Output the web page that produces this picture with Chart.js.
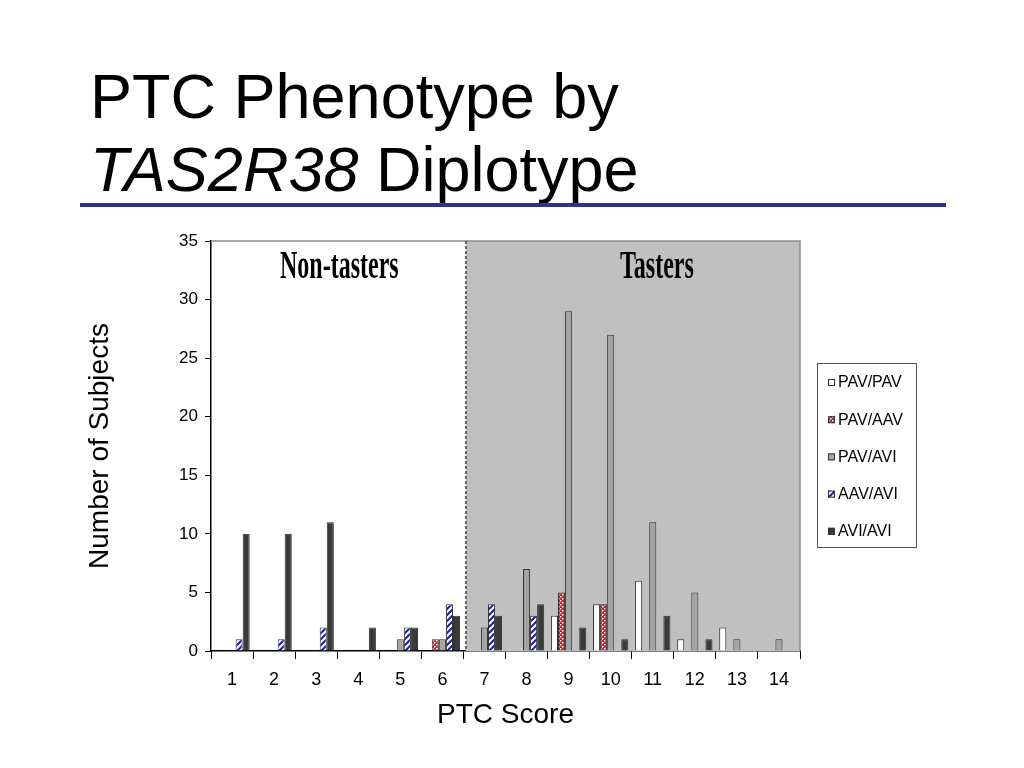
<!DOCTYPE html>
<html>
<head>
<meta charset="utf-8">
<script src="https://cdn.jsdelivr.net/npm/chart.js@4.4.1/dist/chart.umd.min.js"></script>
<style>
  html, body { margin: 0; padding: 0; background: #fff; }
  body { width: 1024px; height: 768px; position: relative; overflow: hidden;
         font-family: "Liberation Sans", Arial, sans-serif; }
  #title { position: absolute; left: 90px; top: 60px; font-size: 63px; line-height: 73px;
           white-space: nowrap; color: #000; z-index: 2; }
  #rule { position: absolute; left: 80px; top: 203px; width: 866px; height: 4px;
          background: #2e3192; z-index: 2; }
  #wrap { position: absolute; left: 0; top: 0; width: 1024px; height: 768px; }
</style>
</head>
<body>
<div id="title">PTC Phenotype by<br><i>TAS2R38</i> Diplotype</div>
<div id="rule"></div>
<div id="wrap"><canvas id="ptcChart"></canvas></div>
<script>
// PTC score categories
const scores = ['1', '2', '3', '4', '5', '6', '7', '8', '9', '10', '11', '12', '13', '14'];

// number of subjects per diplotype
const pavPav = [0, 0, 0, 0, 0, 0, 0, 0, 3, 4, 6, 1, 2, 0];
const pavAav = [0, 0, 0, 0, 0, 1, 0, 0, 5, 4, 0, 0, 0, 0];
const pavAvi = [0, 0, 0, 0, 1, 1, 2, 7, 29, 27, 11, 5, 1, 1];
const aavAvi = [1, 1, 2, 0, 2, 4, 4, 3, 0, 0, 0, 0, 0, 0];
const aviAvi = [10, 10, 11, 2, 2, 3, 3, 4, 2, 1, 3, 1, 0, 0];

const yTicks = [0, 5, 10, 15, 20, 25, 30, 35];

// patterns for the hatched bars
function dotPattern() {
    const c = document.createElement('canvas');
    c.width = 4; c.height = 4;
    const g = c.getContext('2d');
    g.fillStyle = '#e3161e';
    g.fillRect(0, 0, 4, 4);
    g.fillStyle = '#ffffff';
    g.fillRect(0, 0, 1.5, 1.5);
    g.fillRect(2, 2, 1.5, 1.5);
    return g.createPattern(c, 'repeat');
}
function stripePattern() {
    const c = document.createElement('canvas');
    c.width = 6; c.height = 6;
    const g = c.getContext('2d');
    g.fillStyle = '#ffffff';
    g.fillRect(0, 0, 6, 6);
    g.strokeStyle = '#1c1cb0';
    g.lineWidth = 2;
    g.beginPath();
    g.moveTo(-1, 7); g.lineTo(7, -1);
    g.moveTo(-4, 4); g.lineTo(4, -4);
    g.moveTo(2, 10); g.lineTo(10, 2);
    g.stroke();
    return g.createPattern(c, 'repeat');
}

const font = '"Liberation Sans", Arial, sans-serif';

// shaded tasters zone, dashed divider and zone labels
const zones = {
    id: 'zones',
    beforeDatasetsDraw(chart) {
        const {ctx, chartArea: a, scales: {x}} = chart;
        const split = x.getPixelForValue(5.56);
        ctx.save();
        ctx.fillStyle = '#c0c0c0';
        ctx.fillRect(split, a.top, a.right - split, a.bottom - a.top);
        ctx.strokeStyle = '#8c8c8c';
        ctx.lineWidth = 1.5;
        ctx.beginPath();
        ctx.moveTo(a.left, a.top);
        ctx.lineTo(a.right, a.top);
        ctx.lineTo(a.right, a.bottom);
        ctx.stroke();
        ctx.strokeStyle = '#444';
        ctx.setLineDash([3, 2]);
        ctx.beginPath();
        ctx.moveTo(split, a.top);
        ctx.lineTo(split, a.bottom);
        ctx.stroke();
        ctx.setLineDash([]);
        ctx.fillStyle = '#000';
        ctx.font = 'bold 40px "Liberation Serif", "Times New Roman", serif';
        ctx.textAlign = 'center';
        ctx.textBaseline = 'alphabetic';
        [['Non-tasters', 2.55], ['Tasters', 10.1]].forEach(([t, v]) => {
            ctx.save();
            ctx.translate(x.getPixelForValue(v), a.top + 37);
            ctx.scale(0.6, 1);
            ctx.fillText(t, 0, 0);
            ctx.restore();
        });
        ctx.restore();
    }
};

// boxed legend to the right of the plot
const boxLegend = {
    id: 'boxLegend',
    afterDraw(chart) {
        const {ctx, chartArea: a} = chart;
        const left = a.right + 17, top = 363, w = 99, h = 184;
        ctx.save();
        ctx.fillStyle = '#fff';
        ctx.fillRect(left, top, w, h);
        ctx.strokeStyle = '#555';
        ctx.lineWidth = 1;
        ctx.strokeRect(left + 0.5, top + 0.5, w, h);
        ctx.font = '16px ' + font;
        ctx.textBaseline = 'middle';
        chart.data.datasets.forEach((ds, i) => {
            const cy = top + 20 + i * 37.2;
            ctx.fillStyle = ds.backgroundColor;
            ctx.fillRect(left + 11, cy - 4, 7, 7);
            ctx.strokeStyle = '#333';
            ctx.strokeRect(left + 11.5, cy - 3.5, 6, 6);
            ctx.fillStyle = '#000';
            ctx.fillText(ds.label, left + 21, cy);
        });
        ctx.restore();
    }
};

const ctx = document.getElementById('ptcChart');
new Chart(ctx, {
    type: 'bar',
    data: {
        labels: scores,
        datasets: [
            { label: 'PAV/PAV', data: pavPav, backgroundColor: '#ffffff' },
            { label: 'PAV/AAV', data: pavAav, backgroundColor: dotPattern() },
            { label: 'PAV/AVI', data: pavAvi, backgroundColor: '#a4a4a4' },
            { label: 'AAV/AVI', data: aavAvi, backgroundColor: stripePattern() },
            { label: 'AVI/AVI', data: aviAvi, backgroundColor: '#3a3a3a' }
        ].map(d => Object.assign(d, {
            borderColor: '#333', borderWidth: 1, borderSkipped: 'start',
            barPercentage: 1, categoryPercentage: 0.84
        }))
    },
    options: {
        responsive: true,
        maintainAspectRatio: false,
        animation: false,
        layout: { padding: { left: 80, top: 241, right: 224, bottom: 33 } },
        plugins: {
            legend: { display: false },
            tooltip: { enabled: false }
        },
        scales: {
            x: {
                grid: { drawOnChartArea: false, color: '#000', tickLength: 8, offset: true },
                border: { color: '#000', width: 1.5 },
                ticks: { color: '#000', font: { family: font, size: 18 }, padding: 10 },
                title: { display: true, text: 'PTC Score', color: '#000',
                         font: { family: font, size: 28 }, padding: { top: 4, bottom: 3 } },
                afterFit: s => { s.height = 84; }
            },
            y: {
                min: 0, max: 35,
                afterBuildTicks: s => { s.ticks = yTicks.map(v => ({ value: v })); },
                grid: { drawOnChartArea: false, color: '#000', tickLength: 6 },
                border: { color: '#000', width: 1.5 },
                ticks: { color: '#000', font: { family: font, size: 17 }, padding: 7 },
                title: { display: true, text: 'Number of Subjects', color: '#000',
                         font: { family: font, size: 28 }, padding: { top: 3, bottom: 4 } },
                afterFit: s => { s.width = 131; }
            }
        }
    },
    plugins: [zones, boxLegend]
});
</script>
</body>
</html>
